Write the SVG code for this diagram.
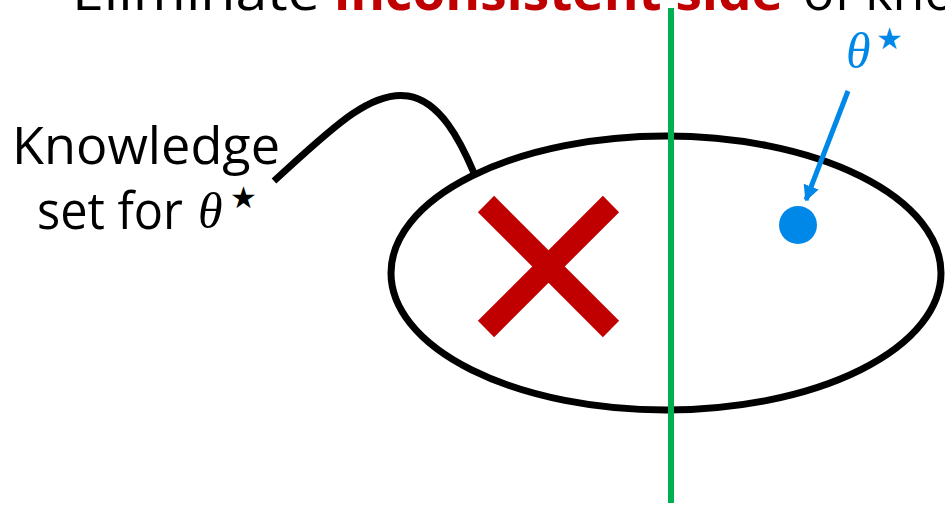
<svg xmlns="http://www.w3.org/2000/svg" width="945" height="505" viewBox="0 0 945 505">
<defs>
<style>
.sans{font-family:"Open Sans",Lato,"Liberation Sans",sans-serif;}
.th{font-family:"Liberation Serif","DejaVu Serif",serif;font-style:italic;}
.star{font-family:"DejaVu Sans",sans-serif;}
</style>
<marker id="ah" viewBox="0 0 10 10" refX="9" refY="5" markerWidth="3.2" markerHeight="3.2" orient="auto" markerUnits="strokeWidth">
<path d="M0,0 L10,5 L0,10 z" fill="#0088E8"/>
</marker>
</defs>
<rect width="945" height="505" fill="#fff"/>
<g id="title">
<text class="sans" y="10" font-size="52" fill="#000"><tspan x="72" textLength="248" lengthAdjust="spacingAndGlyphs">Eliminate</tspan><tspan x="334" textLength="449" lengthAdjust="spacingAndGlyphs" font-weight="bold" fill="#C00000">inconsistent side</tspan><tspan x="803">of kno</tspan></text>
</g>
<g id="knowledge-set">
<ellipse cx="666" cy="273" rx="275" ry="137" fill="none" stroke="#000" stroke-width="7"/>
</g>
<g id="cross">
<path d="M486,204 L611,329 M611,204 L486,329" stroke="#C00000" stroke-width="23" fill="none"/>
</g>
<g id="theta-point">
<circle cx="798" cy="225" r="19" fill="#0088E8"/>
</g>
<g id="label-knowledge">
<text class="sans" x="12" y="164" font-size="51" textLength="268" lengthAdjust="spacingAndGlyphs" fill="#000">Knowledge</text>
<text class="sans" x="37" y="229" font-size="51" textLength="146" lengthAdjust="spacingAndGlyphs" fill="#000">set for</text>
<text class="th" x="198" y="228" font-size="50" fill="#000">θ</text>
<text class="star" x="230" y="208" font-size="30" fill="#000">★</text>
</g>
<g id="label-theta">
<text class="th" x="846" y="68" font-size="50" fill="#0088E8">θ</text>
<text class="star" x="876" y="49" font-size="30" fill="#0088E8">★</text>
</g>
<g id="connectors">
<line x1="671" y1="8" x2="671" y2="503" stroke="#00B050" stroke-width="6"/>
<path d="M274,181 C330,130 370,90 408,96 C440,101 460,140 474,173" fill="none" stroke="#000" stroke-width="7"/>
<line x1="848" y1="91" x2="806" y2="200" stroke="#0088E8" stroke-width="5" marker-end="url(#ah)"/>
</g>
</svg>
